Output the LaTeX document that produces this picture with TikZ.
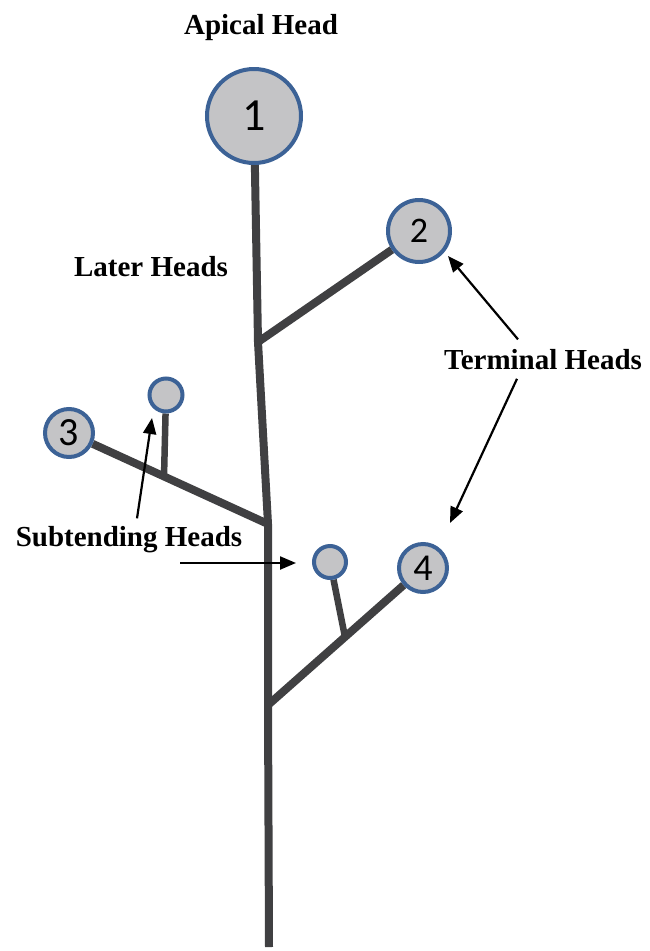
\documentclass[tikz,border=0pt]{standalone}
\usepackage{fontspec}
\setmainfont{Liberation Serif}
\newfontfamily\numfont{Carlito}
\usetikzlibrary{arrows.meta, backgrounds}
\definecolor{headblue}{RGB}{60,98,150}
\definecolor{headgray}{RGB}{196,196,198}
\definecolor{stalkgray}{RGB}{64,64,66}
\newcommand{\numsize}[1]{\numfont\fontsize{#1}{#1}\selectfont}

\begin{document}
\begin{tikzpicture}[
                    x=1pt, y=-1pt,
                    head/.style={circle, draw=headblue, fill=headgray,
                                 line width=4pt, inner sep=0pt},
                    stalk/.style={draw=stalkgray, line width=8pt},
                    twig/.style={draw=stalkgray, line width=6.5pt},
                    lbl/.style={font=\bfseries\fontsize{29}{32}\selectfont, anchor=base},
                    pointer/.style={-{Triangle[length=16pt, width=13pt]}, line width=2.2pt},
                ]
                \useasboundingbox (0,0) rectangle (649,951);

                % heads
                \node[head, minimum size=94pt, font=\numsize{46}] (h1) at (254,116) {1};
                \node[head, minimum size=62pt, font=\numsize{36}] (h2) at (419,231) {2};
                \node[head, minimum size=48pt, font=\numsize{40}] (h3) at (69,433) {3};
                \node[head, minimum size=48pt, font=\numsize{38}] (h4) at (423,568) {4};
                \node[head, minimum size=33pt] (s3) at (166,395) {};
                \node[head, minimum size=32pt] (s4) at (330,562) {};

                \coordinate (j2) at (258,342);
                \coordinate (j3) at (268,524);
                \coordinate (j4) at (268,705);
                \coordinate (j3s) at (164,477);
                \coordinate (j4s) at (345,637);
                \coordinate (base) at (269,947);

                \begin{scope}[on background layer]
                    \draw[stalk] (h1) -- (j2) -- (j3) -- (j4) -- (base);
                    \draw[stalk] (j2) -- (h2);
                    \draw[stalk] (j3) -- (h3);
                    \draw[stalk] (j4) -- (h4);
                    \draw[twig] (j3s) -- (s3);
                    \draw[twig] (j4s) -- (s4);
                \end{scope}

                % labels
                \node[lbl] (apical) at (261,34) {Apical Head};
                \node[lbl] (later) at (151,276) {Later Heads};
                \node[lbl] (terminal) at (543,369) {Terminal Heads};
                \node[lbl] (subtend) at (129,546) {Subtending Heads};

                \coordinate (t2) at (448,256);
                \coordinate (t4) at (450,523);
                \coordinate (ts3) at (152,418);
                \coordinate (ts4) at (296,563);

                \draw[pointer] (terminal.north -| 518,0) ++(0,-6) -- (t2);
                \draw[pointer] (terminal.south -| 517,0) ++(0,6) -- (t4);
                \draw[pointer] (subtend.north -| 137,0) ++(0,-4) -- (ts3);
                \draw[pointer] (180,563) -- (ts4);
            \end{tikzpicture}
\end{document}
